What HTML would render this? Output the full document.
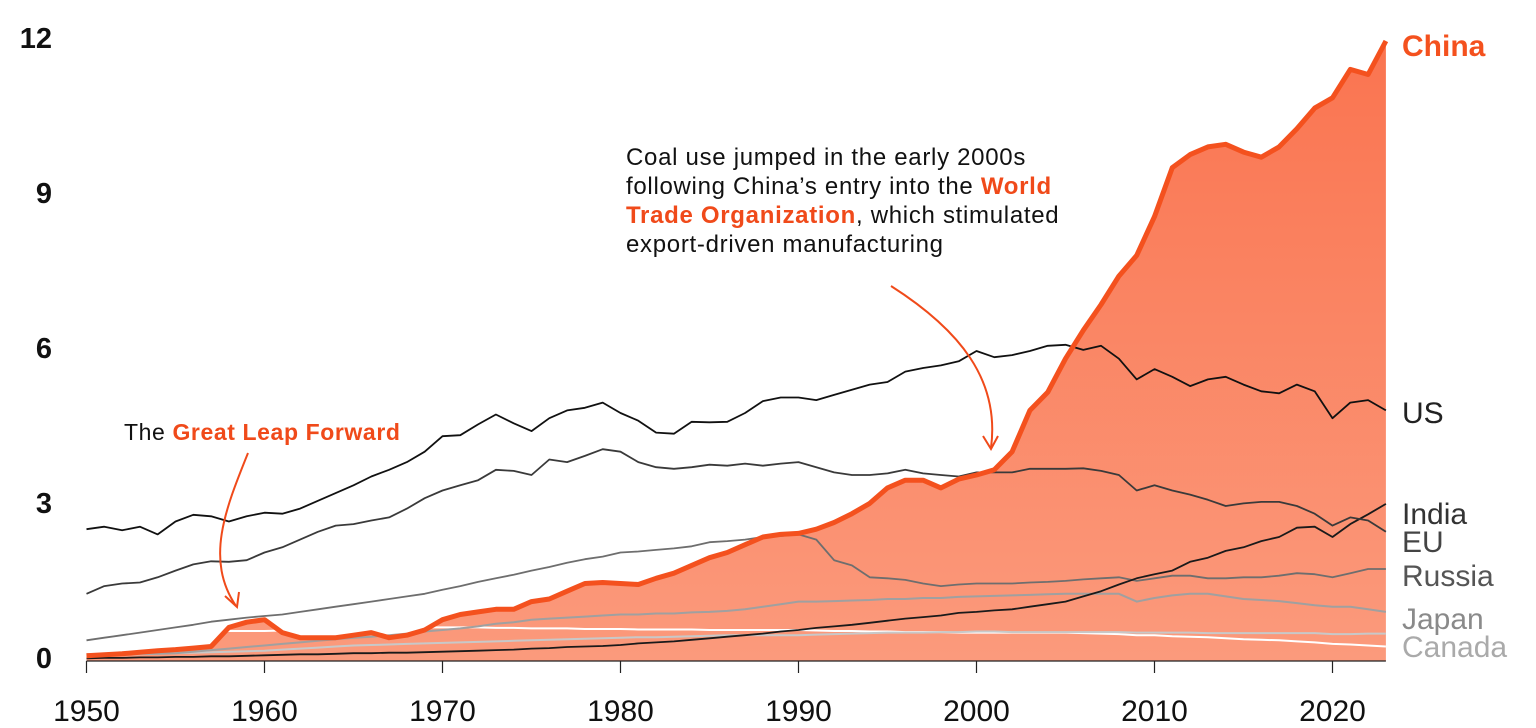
<!DOCTYPE html>
<html><head><meta charset="utf-8">
<style>
html,body{margin:0;padding:0;background:#fff;}
svg{display:block;font-family:"Liberation Sans",sans-serif;}
</style></head>
<body>
<svg id="chart" width="1536" height="728" viewBox="0 0 1536 728" xmlns="http://www.w3.org/2000/svg">
<defs>
<linearGradient id="chinaGrad" x1="0" y1="0" x2="0" y2="1">
<stop offset="0" stop-color="#fa7450"/>
<stop offset="1" stop-color="#fb9a7c"/>
</linearGradient>
</defs>
<g id="plot"></g>
<g id="annotations">
<text x="124" y="440" font-size="23" letter-spacing="0.6" fill="#111">The <tspan font-weight="bold" fill="#f04a1a">Great Leap Forward</tspan></text>
<path d="M248,453 C225,510 205,560 236,606" fill="none" stroke="#f04a1a" stroke-width="2"/>
<path d="M225,596 L237,607 L239,592" fill="none" stroke="#f04a1a" stroke-width="2"/>
<text font-size="24" letter-spacing="0.7" fill="#111">
<tspan x="626" y="165">Coal use jumped in the early 2000s</tspan>
<tspan x="626" y="194">following China’s entry into the <tspan font-weight="bold" fill="#f04a1a">World</tspan></tspan>
<tspan x="626" y="223"><tspan font-weight="bold" fill="#f04a1a">Trade Organization</tspan>, which stimulated</tspan>
<tspan x="626" y="252">export-driven manufacturing</tspan>
</text>
<path d="M891,286 C960,330 1000,380 991,448" fill="none" stroke="#f04a1a" stroke-width="2"/>
<path d="M983,436 L991,449 L998,436" fill="none" stroke="#f04a1a" stroke-width="2"/>
</g>
</svg>
<script>
const years = [];
for (let y = 1950; y <= 2023; y++) years.push(y);
const yTicks = [0, 3, 6, 9, 12];
const xTicks = [1950, 1960, 1970, 1980, 1990, 2000, 2010, 2020];

const china = [0.1,0.12,0.14,0.17,0.2,0.22,0.25,0.28,0.65,0.75,0.8,0.55,0.45,0.45,0.45,0.5,0.55,0.45,0.5,0.6,0.8,0.9,0.95,1.0,1.0,1.15,1.2,1.35,1.5,1.52,1.5,1.48,1.6,1.7,1.85,2.0,2.1,2.25,2.4,2.45,2.47,2.55,2.68,2.85,3.05,3.35,3.5,3.5,3.35,3.52,3.6,3.7,4.05,4.85,5.2,5.85,6.4,6.9,7.45,7.85,8.6,9.55,9.8,9.95,10.0,9.85,9.75,9.95,10.3,10.7,10.9,11.45,11.35,12.0];
const us = [2.55,2.6,2.53,2.6,2.45,2.7,2.83,2.8,2.7,2.8,2.87,2.85,2.95,3.1,3.25,3.4,3.57,3.7,3.85,4.05,4.35,4.37,4.58,4.77,4.6,4.45,4.7,4.85,4.9,5.0,4.8,4.65,4.42,4.4,4.63,4.62,4.63,4.8,5.03,5.1,5.1,5.05,5.15,5.25,5.35,5.4,5.6,5.67,5.72,5.8,6.0,5.88,5.92,6.0,6.1,6.12,6.02,6.1,5.85,5.45,5.65,5.5,5.32,5.45,5.5,5.35,5.22,5.18,5.35,5.22,4.7,5.0,5.05,4.85];
const eu = [1.3,1.45,1.5,1.52,1.62,1.75,1.87,1.93,1.92,1.95,2.1,2.2,2.35,2.5,2.62,2.65,2.72,2.78,2.95,3.15,3.3,3.4,3.5,3.7,3.68,3.6,3.9,3.85,3.97,4.1,4.05,3.85,3.75,3.72,3.75,3.8,3.78,3.82,3.78,3.82,3.85,3.75,3.65,3.6,3.6,3.63,3.7,3.63,3.6,3.57,3.65,3.65,3.65,3.72,3.72,3.72,3.73,3.68,3.6,3.3,3.4,3.3,3.22,3.12,3.0,3.05,3.08,3.08,3.0,2.85,2.62,2.78,2.72,2.5];
const india = [0.05,0.06,0.06,0.07,0.07,0.08,0.08,0.09,0.09,0.1,0.11,0.12,0.13,0.13,0.14,0.15,0.15,0.16,0.16,0.17,0.18,0.19,0.2,0.21,0.22,0.24,0.25,0.27,0.28,0.29,0.31,0.34,0.36,0.38,0.41,0.44,0.47,0.5,0.53,0.57,0.6,0.64,0.67,0.7,0.74,0.78,0.82,0.85,0.88,0.93,0.95,0.98,1.0,1.05,1.1,1.15,1.25,1.35,1.48,1.6,1.68,1.75,1.92,2.0,2.13,2.2,2.32,2.4,2.58,2.6,2.4,2.65,2.84,3.04];
const russia = [0.4,0.45,0.5,0.55,0.6,0.65,0.7,0.76,0.8,0.84,0.87,0.9,0.95,1.0,1.05,1.1,1.15,1.2,1.25,1.3,1.38,1.45,1.53,1.6,1.67,1.75,1.82,1.9,1.97,2.02,2.1,2.12,2.15,2.18,2.22,2.3,2.32,2.35,2.4,2.42,2.45,2.35,1.95,1.85,1.62,1.6,1.57,1.5,1.45,1.48,1.5,1.5,1.5,1.52,1.53,1.55,1.58,1.6,1.62,1.55,1.6,1.65,1.65,1.6,1.6,1.62,1.62,1.65,1.7,1.68,1.62,1.7,1.78,1.78];
const japan = [0.13,0.13,0.14,0.14,0.14,0.15,0.18,0.21,0.24,0.27,0.3,0.33,0.36,0.39,0.42,0.45,0.47,0.5,0.53,0.57,0.6,0.63,0.67,0.72,0.75,0.8,0.82,0.84,0.86,0.88,0.9,0.9,0.92,0.92,0.94,0.95,0.97,1.0,1.05,1.1,1.15,1.15,1.16,1.17,1.18,1.2,1.2,1.22,1.22,1.24,1.25,1.26,1.27,1.28,1.29,1.3,1.3,1.3,1.3,1.15,1.22,1.27,1.3,1.3,1.25,1.2,1.18,1.16,1.12,1.08,1.05,1.05,1.0,0.95];
const canada = [0.1,0.11,0.12,0.13,0.14,0.15,0.16,0.17,0.18,0.19,0.2,0.22,0.24,0.26,0.28,0.3,0.31,0.32,0.33,0.34,0.35,0.36,0.37,0.38,0.39,0.4,0.41,0.42,0.43,0.44,0.45,0.46,0.46,0.47,0.48,0.49,0.5,0.5,0.5,0.5,0.5,0.51,0.52,0.53,0.54,0.55,0.55,0.55,0.56,0.56,0.57,0.57,0.56,0.56,0.56,0.56,0.56,0.56,0.56,0.55,0.55,0.55,0.55,0.54,0.54,0.54,0.54,0.54,0.54,0.54,0.52,0.52,0.53,0.53];
const other = [0.55,0.55,0.56,0.56,0.56,0.57,0.57,0.57,0.58,0.58,0.58,0.59,0.6,0.61,0.62,0.63,0.63,0.64,0.64,0.65,0.65,0.65,0.65,0.64,0.64,0.63,0.63,0.63,0.62,0.62,0.62,0.61,0.61,0.61,0.61,0.6,0.6,0.6,0.6,0.6,0.6,0.59,0.58,0.58,0.57,0.57,0.56,0.56,0.56,0.55,0.55,0.55,0.55,0.55,0.55,0.55,0.54,0.53,0.52,0.5,0.5,0.48,0.47,0.46,0.44,0.42,0.41,0.4,0.38,0.36,0.33,0.32,0.3,0.28];

const X0 = 86.5, PX_PER_YEAR = 17.8, Y0 = 661, PX_PER_UNIT = 51.67;
function xs(yr){ return X0 + (yr - 1950) * PX_PER_YEAR; }
function ys(v){ return Y0 - v * PX_PER_UNIT; }
const NS = "http://www.w3.org/2000/svg";
const plot = document.getElementById('plot');
function mk(tag, attrs){ const e = document.createElementNS(NS, tag); for (const k in attrs) e.setAttribute(k, attrs[k]); return e; }
function pts(arr){ return arr.map((v,i)=> xs(years[i]).toFixed(1)+','+ys(v).toFixed(1)).join(' '); }

const area = mk('polygon', {points: xs(1950)+','+Y0+' '+pts(china)+' '+xs(2023)+','+Y0, fill:'url(#chinaGrad)'});


plot.appendChild(area);

const series = [
  {name:'other-line', data:other, color:'#ffffff', w:2},
  {name:'canada-line', data:canada, color:'#c8c8c8', w:2},
  {name:'japan-line', data:japan, color:'#a0a0a0', w:2},
  {name:'russia-line', data:russia, color:'#6e6e6e', w:1.8},
  {name:'india-line', data:india, color:'#1a1a1a', w:1.8},
  {name:'eu-line', data:eu, color:'#3a3a3a', w:1.8},
  {name:'us-line', data:us, color:'#111111', w:1.8}
];
series.forEach(s=>{
  const l = mk('polyline', {points: pts(s.data), fill:'none', stroke:s.color, 'stroke-width':s.w, 'stroke-linejoin':'round'});
  
  
  plot.appendChild(l);
});
const cl = mk('polyline', {points: pts(china), fill:'none', stroke:'#f4511e', 'stroke-width':5, 'stroke-linejoin':'round'});


plot.appendChild(cl);

const ax = mk('line', {x1:X0, x2:xs(2023), y1:Y0, y2:Y0, stroke:'#222', 'stroke-width':1.2});


plot.appendChild(ax);
xTicks.forEach(t=>{
  const tk = mk('line', {x1:xs(t), x2:xs(t), y1:Y0, y2:Y0+12, stroke:'#222', 'stroke-width':1.2});
  
  
  plot.appendChild(tk);
  const tx = mk('text', {x:xs(t), y:721, 'text-anchor':'middle', 'font-size':30, fill:'#111'});
  tx.textContent = t;
  
  
  plot.appendChild(tx);
});
yTicks.forEach(t=>{
  const tx = mk('text', {x:52, y:ys(t)+7, 'text-anchor':'end', 'font-size':29, 'font-weight':'bold', fill:'#111'});
  tx.textContent = t;
  
  
  plot.appendChild(tx);
});

const labels = [
  {t:'China', y:56, c:'#f4511e', b:true, n:'china-label'},
  {t:'US', y:423, c:'#222', n:'us-label'},
  {t:'India', y:524, c:'#333', n:'india-label'},
  {t:'EU', y:552, c:'#444', n:'eu-label'},
  {t:'Russia', y:586, c:'#555', n:'russia-label'},
  {t:'Japan', y:629, c:'#8a8a8a', n:'japan-label'},
  {t:'Canada', y:657, c:'#aaaaaa', n:'canada-label'}
];
labels.forEach(L=>{
  const tx = mk('text', {x:1402, y:L.y, 'font-size':30, fill:L.c});
  if (L.b) tx.setAttribute('font-weight','bold');
  tx.textContent = L.t;
  
  
  plot.appendChild(tx);
});
</script>
</body></html>
